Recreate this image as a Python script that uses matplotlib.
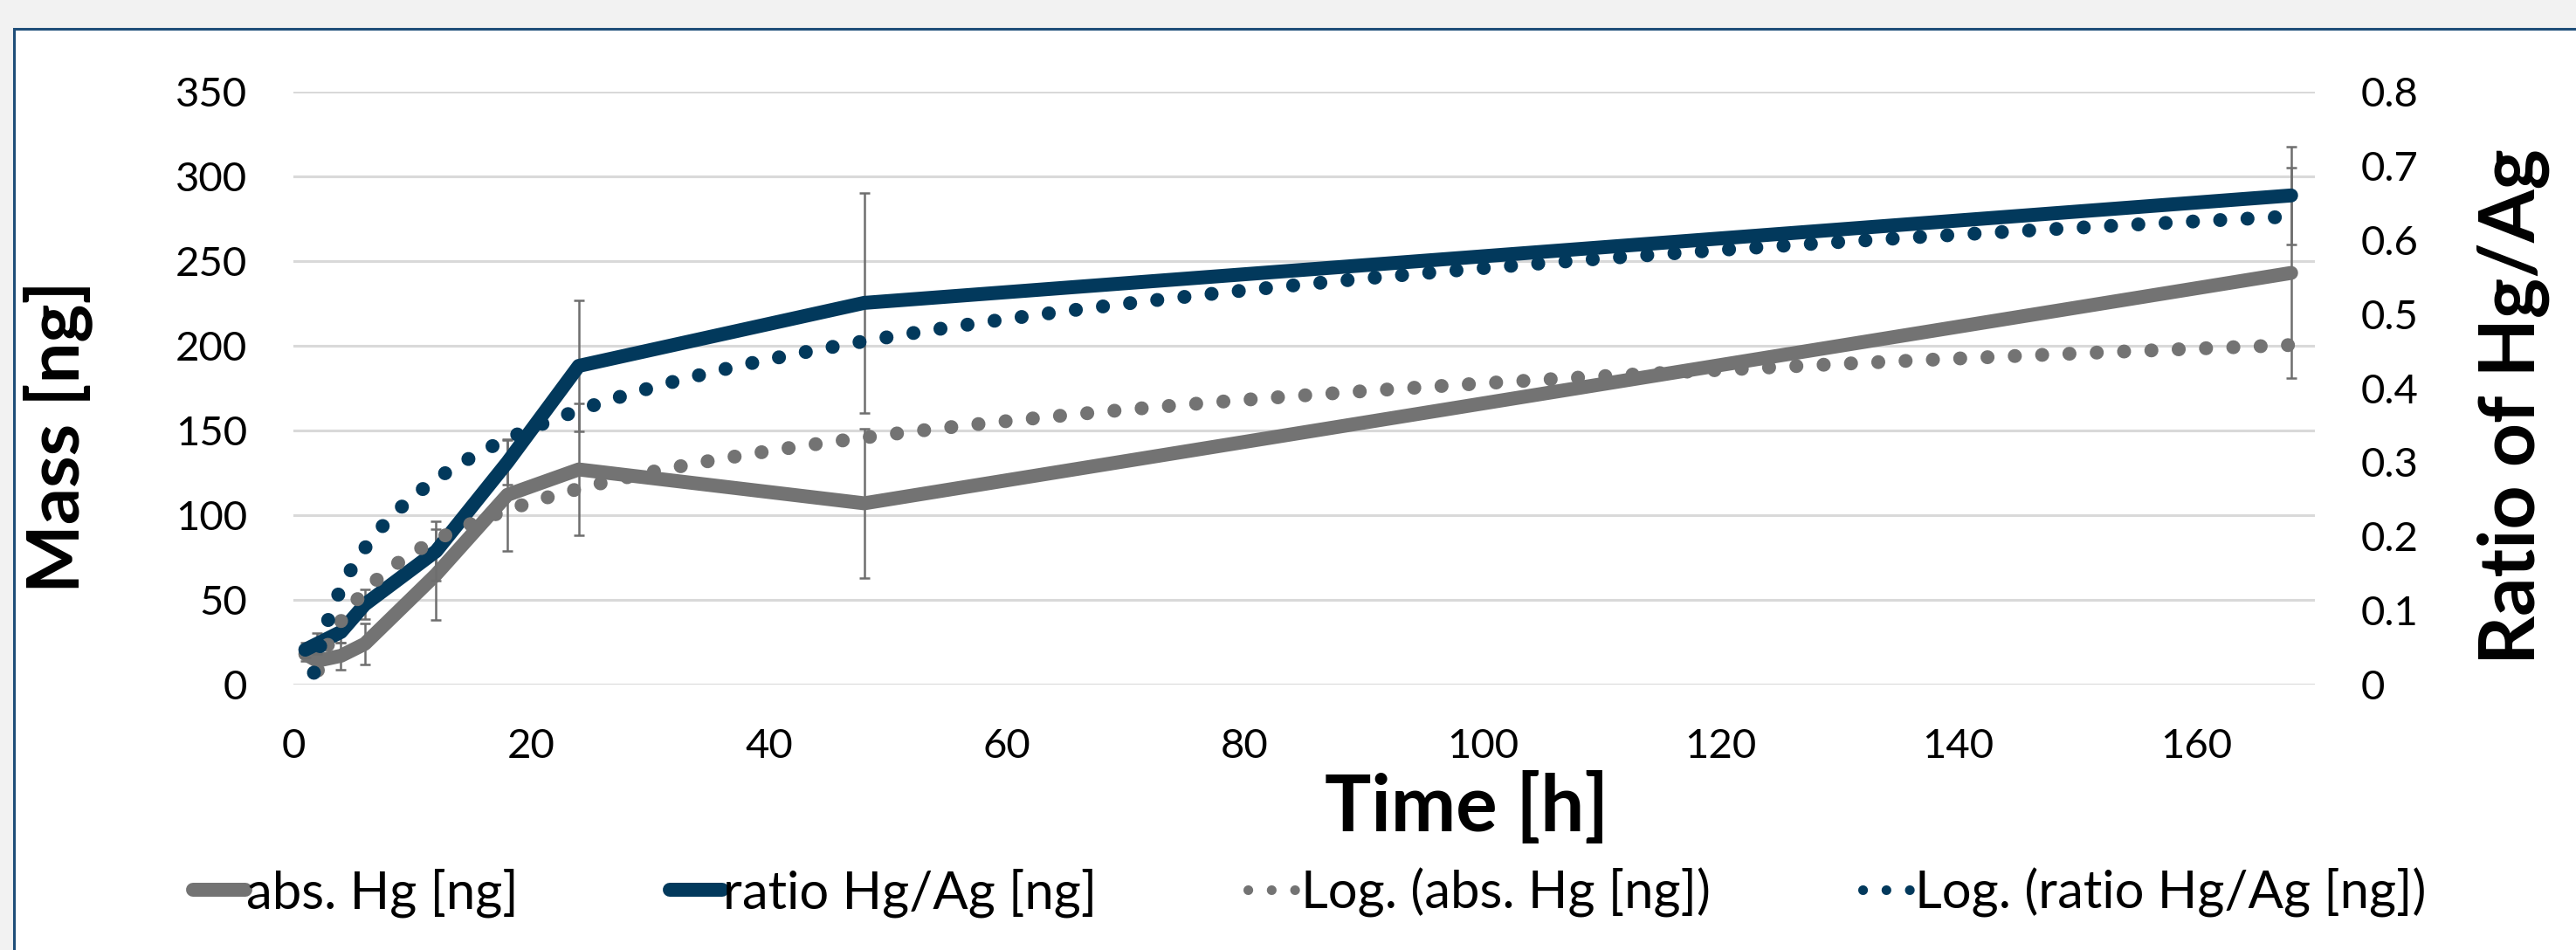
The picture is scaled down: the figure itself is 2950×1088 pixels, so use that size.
import matplotlib
matplotlib.use("Agg")
import matplotlib.pyplot as plt
from matplotlib.lines import Line2D
from matplotlib.patches import Rectangle
import numpy as np

# sampling times [h]
hours = [1, 2, 4, 6, 12, 18, 24, 48, 168]
# absolute Hg mass [ng] and its error
abs_hg = [18, 14, 17, 24, 65, 112, 127, 107, 243]
abs_hg_err = [4, 5, 8, 12, 27, 33, 39, 44, 62]
# ratio Hg/Ag and its error
ratio = [0.047, 0.055, 0.071, 0.108, 0.18, 0.30, 0.43, 0.515, 0.66]
ratio_err = [0.01, 0.014, 0.015, 0.02, 0.04, 0.03, 0.088, 0.148, 0.066]

mass_ticks = list(range(0, 351, 50))
ratio_ticks = [0, 0.1, 0.2, 0.3, 0.4, 0.5, 0.6, 0.7, 0.8]
time_ticks = list(range(0, 161, 20))

GRAY = "#737373"
BLUE = "#02395C"
ERR = "#6E6E6E"
FONT = "Lato"

plt.rcParams["font.family"] = [FONT, "DejaVu Sans"]

W, H = 2950, 1088
fig = plt.figure(figsize=(W / 100, H / 100), dpi=100, facecolor="#F2F2F2")
fig.patches.append(Rectangle((16 / W, -0.05), 1.1, 1.05 - 33 / H, transform=fig.transFigure,
                             facecolor="white", edgecolor="#1F4E79", linewidth=2.2, zorder=-10))

ax = fig.add_axes([336 / W, 1 - 784 / H, (2651 - 336) / W, (784 - 105) / H])
ax.set_facecolor("none")
ax2 = ax.twinx()

lw = 11.5
# primary series
ax.errorbar(hours, abs_hg, yerr=abs_hg_err, fmt="none", ecolor=ERR, elinewidth=1.8,
            capsize=4.5, capthick=1.8, zorder=2)
ax.plot(hours, abs_hg, color=GRAY, lw=lw, solid_capstyle="round", solid_joinstyle="round", zorder=3)

# secondary series
ax2.errorbar(hours, ratio, yerr=ratio_err, fmt="none", ecolor=ERR, elinewidth=1.8,
             capsize=4.5, capthick=1.8, zorder=2)
ax2.plot(hours, ratio, color=BLUE, lw=lw, solid_capstyle="round", solid_joinstyle="round", zorder=3)

# logarithmic trendlines (least squares on ln t, like Excel)
log_t = np.log(hours)
tt = np.linspace(hours[0], hours[-1], 600)
a1, b1 = np.polyfit(log_t, abs_hg, 1)
a2, b2 = np.polyfit(log_t, ratio, 1)
dots = (0, (0.01, 1.95))
ax2.plot(tt, a1 * np.log(tt) + b1, color=GRAY, lw=lw, linestyle=dots, dash_capstyle="round",
         transform=ax.transData, zorder=4)
ax2.plot(tt, a2 * np.log(tt) + b2, color=BLUE, lw=lw, linestyle=dots, dash_capstyle="round", zorder=5)

ax.set_xlim(0, 170)
ax.set_ylim(0, 350)
ax2.set_ylim(0, 0.8)
ax.set_xticks(time_ticks)
ax.set_yticks(mass_ticks)
ax2.set_yticks(ratio_ticks)
ax2.set_yticklabels([f"{v:g}" for v in ratio_ticks])
ax.grid(axis="y", color="#D9D9D9", lw=2.2)
ax.set_axisbelow(True)
for a in (ax, ax2):
    for s in a.spines.values():
        s.set_visible(False)
ax.tick_params(axis="both", length=0, labelsize=34, pad=38)
ax.tick_params(axis="x", pad=36)
ax2.tick_params(axis="y", length=0, labelsize=34, pad=38)

fig.text(66 / W, 1 - 500 / H, "Mass [ng]", rotation=90, ha="center", va="center",
         fontsize=60, fontweight="bold")
fig.text(2878 / W, 1 - 466 / H, "Ratio of Hg/Ag", rotation=90, ha="center", va="center",
         fontsize=63, fontweight="bold")
fig.text(1680 / W, 1 - 925 / H, "Time [h]", ha="center", va="center",
         fontsize=64, fontweight="bold")

handles = [
    Line2D([], [], color=GRAY, lw=lw, solid_capstyle="round"),
    Line2D([], [], color=BLUE, lw=lw, solid_capstyle="round"),
    Line2D([], [], color=GRAY, lw=8, linestyle=(0, (0.01, 2.4)), dash_capstyle="round"),
    Line2D([], [], color=BLUE, lw=8, linestyle=(0, (0.01, 2.4)), dash_capstyle="round"),
]
labels = ["abs. Hg [ng]", "ratio Hg/Ag [ng]", "Log. (abs. Hg [ng])", "Log. (ratio Hg/Ag [ng])"]
fig.legend(handles, labels, loc="center", bbox_to_anchor=(0.5085, 1 - 1022 / H), ncol=4,
           frameon=False, fontsize=43, handlelength=1.0, handletextpad=0.02, columnspacing=2.9)

fig.savefig("out.png", dpi=100, facecolor=fig.get_facecolor())
